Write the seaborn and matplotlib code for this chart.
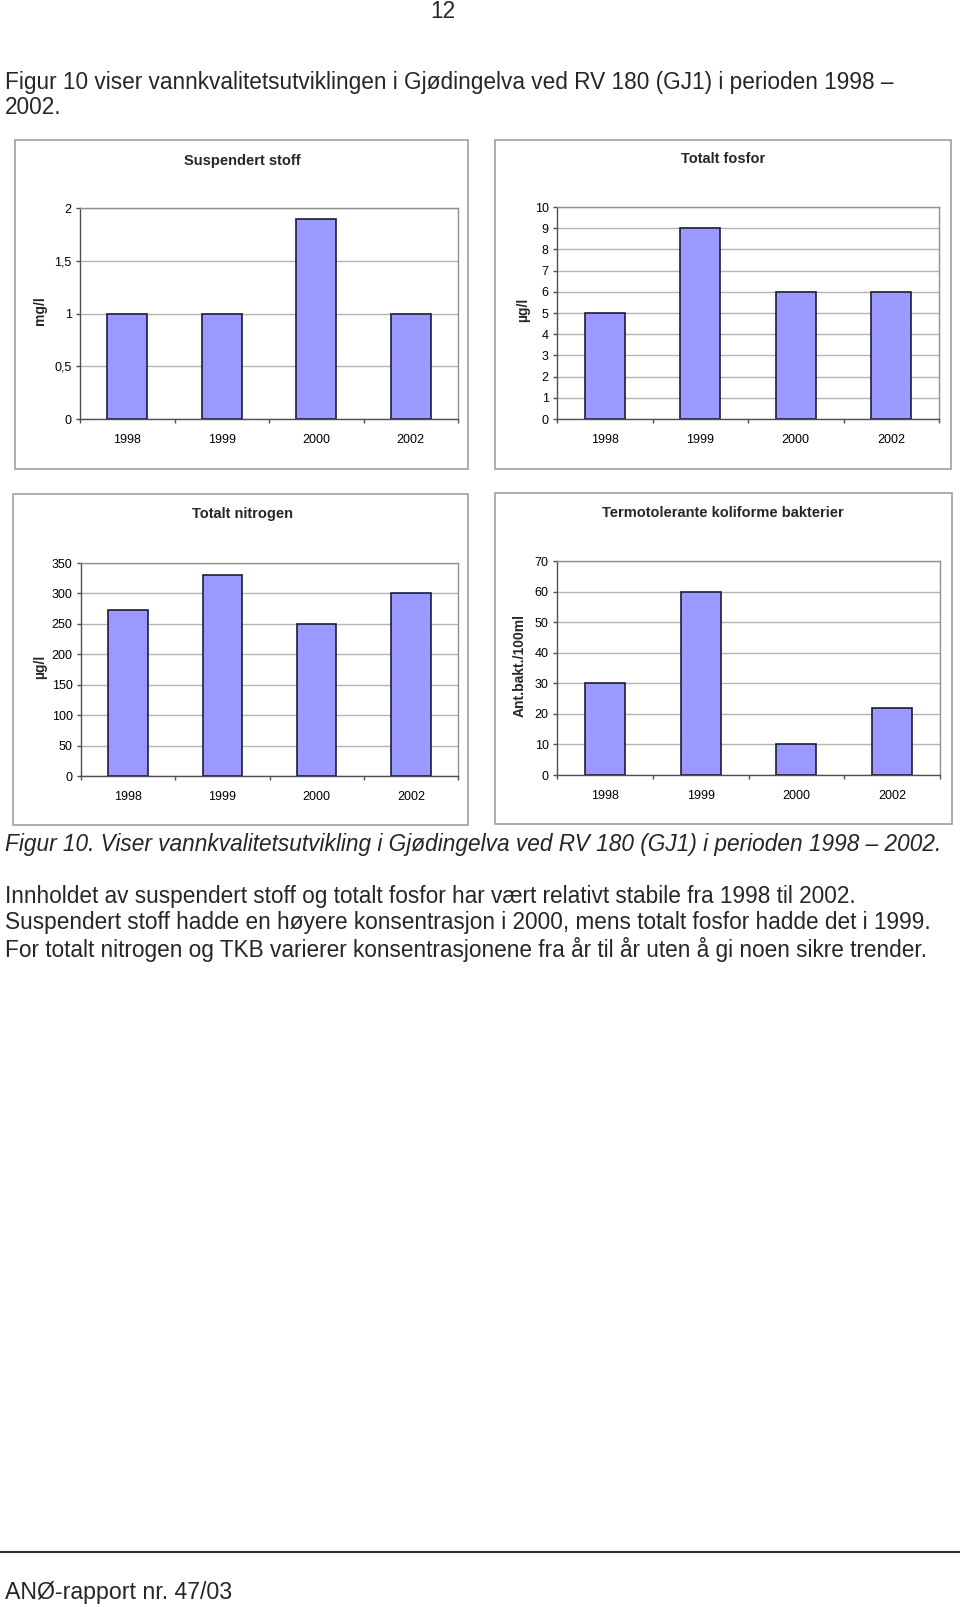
import numpy as np
import matplotlib
matplotlib.use('Agg')
import matplotlib.pyplot as plt
from matplotlib.lines import Line2D
from matplotlib.patches import Rectangle
from matplotlib.ticker import FuncFormatter, FixedLocator
import seaborn as sns

# data (Gjødingelva, RV 180 (GJ1))
years = ['1998', '1999', '2000', '2002']
susp_stoff = [1.0, 1.0, 1.9, 1.0]        # mg/l
tot_fosfor = [5, 9, 6, 6]                # µg/l
tot_nitrogen = [273, 331, 250, 300]      # µg/l
tkb = [30, 60, 10, 22]                   # Ant.bakt./100ml

titles = ['Suspendert stoff', 'Totalt fosfor', 'Totalt nitrogen',
          'Termotolerante koliforme bakterier']
units = ['mg/l', 'µg/l', 'µg/l', 'Ant.bakt./100ml']
series = [susp_stoff, tot_fosfor, tot_nitrogen, tkb]
y_max = [2, 10, 350, 70]
y_step = [0.5, 1, 50, 10]

W, H = 960, 1607
sns.set_theme(style='white')
plt.rcParams['font.family'] = ['Liberation Sans', 'DejaVu Sans']

fig = plt.figure(figsize=(W / 100, H / 100), dpi=100)
fig.patch.set_facecolor('white')


def fx(x):
    return x / W


def fy(y):
    return 1 - y / H


def comma(v, pos):
    return f'{v:g}'.replace('.', ',')


# layout in page pixels: outer box, plot area, title centre, y label x
boxes = [(15, 140, 468, 469), (495, 140, 951, 469),
         (13, 494, 468, 825), (495, 493, 952, 824)]
plots = [(80, 208, 458, 419), (557, 207, 939, 419),
         (81, 563, 458, 776), (557, 561, 940, 775)]
title_pos = [(242, 161), (723, 159), (242, 514), (723, 513)]
ylab_x = [40, 523, 40, 520]

for i in range(4):
    bx0, by0, bx1, by1 = boxes[i]
    fig.add_artist(Rectangle((fx(bx0), fy(by1)), (bx1 - bx0) / W, (by1 - by0) / H,
                             transform=fig.transFigure, fill=False,
                             ec='#a0a0a0', lw=1.2))
    px0, py0, px1, py1 = plots[i]
    ax = fig.add_axes([fx(px0), fy(py1), (px1 - px0) / W, (py1 - py0) / H])
    sns.barplot(x=years, y=series[i], ax=ax, color='#9999ff', saturation=1,
                edgecolor='#1c1c3c', linewidth=1.2, width=0.42)
    ax.set_xlim(-0.5, 3.5)
    ax.set_ylim(0, y_max[i])
    ax.set_yticks(np.arange(0, y_max[i] + y_step[i] / 2, y_step[i]))
    ax.yaxis.set_major_formatter(FuncFormatter(comma))
    ax.xaxis.set_minor_locator(FixedLocator([-0.5, 0.5, 1.5, 2.5, 3.5]))
    ax.yaxis.grid(True, color='#b4b4b4', lw=1)
    ax.xaxis.grid(False)
    ax.set_axisbelow(True)
    ax.set_xlabel('')
    ax.set_ylabel('')
    for s in ['top', 'right']:
        ax.spines[s].set_color('#909090')
        ax.spines[s].set_linewidth(1)
    for s in ['left', 'bottom']:
        ax.spines[s].set_color('#505050')
        ax.spines[s].set_linewidth(1)
    ax.tick_params(axis='y', left=True, length=3, width=1, color='#505050',
                   direction='out', labelsize=9, pad=3, labelcolor='black')
    ax.tick_params(axis='x', which='major', bottom=True, length=0,
                   labelsize=9, pad=11, labelcolor='black')
    ax.tick_params(axis='x', which='minor', bottom=True, length=3, width=1,
                   color='#505050', direction='out')

    tx, ty = title_pos[i]
    fig.text(fx(tx), fy(ty), titles[i], ha='center', va='center',
             fontsize=10.5, fontweight='bold')
    fig.text(fx(ylab_x[i]), fy((py0 + py1) / 2 - 3), units[i], rotation=90,
             ha='center', va='center', fontsize=10, fontweight='bold')

body = 16.3
fig.text(fx(443), fy(12), '12', ha='center', va='center', fontsize=body)
fig.text(fx(5), fy(83), 'Figur 10 viser vannkvalitetsutviklingen i Gjødingelva ved RV 180 (GJ1) i perioden 1998 –',
         ha='left', va='center', fontsize=body)
fig.text(fx(5), fy(108), '2002.', ha='left', va='center', fontsize=body)
fig.text(fx(5), fy(845), 'Figur 10. Viser vannkvalitetsutvikling i Gjødingelva ved RV 180 (GJ1) i perioden 1998 – 2002.',
         ha='left', va='center', fontsize=body, style='italic')
lines = ['Innholdet av suspendert stoff og totalt fosfor har vært relativt stabile fra 1998 til 2002.',
         'Suspendert stoff hadde en høyere konsentrasjon i 2000, mens totalt fosfor hadde det i 1999.',
         'For totalt nitrogen og TKB varierer konsentrasjonene fra år til år uten å gi noen sikre trender.']
for y, t in zip([896, 922, 949], lines):
    fig.text(fx(5), fy(y), t, ha='left', va='center', fontsize=body)

fig.add_artist(Line2D([0, 1], [fy(1552), fy(1552)], transform=fig.transFigure,
                      color='#333333', lw=1.5))
fig.text(fx(5), fy(1593), 'ANØ-rapport nr. 47/03', ha='left', va='center', fontsize=body + 0.4)

fig.savefig('out.png', dpi=100)
